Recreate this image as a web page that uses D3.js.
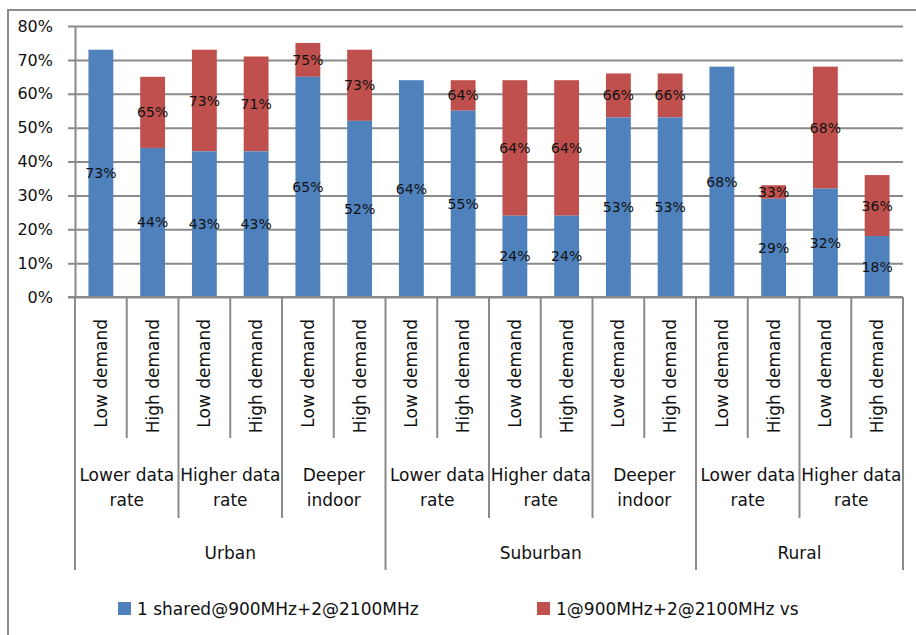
<!DOCTYPE html>
<html>
<head>
<meta charset="utf-8">
<script src="https://cdnjs.cloudflare.com/ajax/libs/d3/7.8.5/d3.min.js"></script>
<style>
  html, body { margin: 0; padding: 0; background: #fff; }
  svg { display: block; }
  text { font-family: "DejaVu Sans", Verdana, sans-serif; fill: #111; }
</style>
</head>
<body>
<svg id="chart" width="916" height="635"></svg>
<script>
// ---- data ----
const demandLabels = ["Low demand","High demand","Low demand","High demand","Low demand","High demand",
                      "Low demand","High demand","Low demand","High demand","Low demand","High demand",
                      "Low demand","High demand","Low demand","High demand"];
const rateLabels = [["Lower data","rate"],["Higher data","rate"],["Deeper","indoor"],
                    ["Lower data","rate"],["Higher data","rate"],["Deeper","indoor"],
                    ["Lower data","rate"],["Higher data","rate"]];
const areaLabels = ["Urban","Suburban","Rural"];
const areaSizes = [6, 6, 4];
const seriesNames = ["1 shared@900MHz+2@2100MHz", "1@900MHz+2@2100MHz vs"];
const sharedValues = [0.73,0.44,0.43,0.43,0.65,0.52,0.64,0.55,0.24,0.24,0.53,0.53,0.68,0.29,0.32,0.18];
const vsValues     = [null,0.65,0.73,0.71,0.75,0.73,null,0.64,0.64,0.64,0.66,0.66,null,0.33,0.68,0.36];
const yTicks = [0,0.1,0.2,0.3,0.4,0.5,0.6,0.7,0.8];
const colors = ["#4F81BD", "#C0504D"];

// ---- layout ----
const svg = d3.select("#chart");
const L = 75, R = 903, T = 26, B = 297;
const gridColor = "#8a8a8a";

const x = d3.scaleBand().domain(d3.range(demandLabels.length))
  .range([L, R]).paddingInner(0.52).paddingOuter(0.26);
const y = d3.scaleLinear().domain([0, 0.8]).range([B, T]);
const step = x.step();
const boundary = i => L + i * step;
const fmt = d3.format(".0%");

// outer frame
svg.append("path")
  .attr("d", `M8,635 L8,10 L916,10`)
  .attr("fill", "none").attr("stroke", gridColor).attr("stroke-width", 2);

// y axis with gridlines
const yAxis = d3.axisLeft(y).tickValues(yTicks).tickFormat(fmt)
  .tickSizeInner(-(R - L)).tickSizeOuter(0).tickPadding(22);
const gy = svg.append("g").attr("transform", `translate(${L},0)`).call(yAxis);
gy.select(".domain").attr("stroke", gridColor).attr("stroke-width", 2);
gy.selectAll(".tick line").attr("x1", -7).attr("stroke", gridColor).attr("stroke-width", 2);
gy.selectAll(".tick text").style("font-size", "16px").attr("fill", "#111")
  .style("font-family", "'DejaVu Sans', sans-serif");

// bars
const gBars = svg.append("g");
gBars.selectAll("rect.vs").data(d3.range(16).filter(i => vsValues[i] !== null))
  .join("rect").attr("class", "vs")
  .attr("x", i => x(i)).attr("width", x.bandwidth())
  .attr("y", i => y(vsValues[i]))
  .attr("height", i => y(sharedValues[i]) - y(vsValues[i]))
  .attr("fill", colors[1]);
gBars.selectAll("rect.sh").data(d3.range(16))
  .join("rect").attr("class", "sh")
  .attr("x", i => x(i)).attr("width", x.bandwidth())
  .attr("y", i => y(sharedValues[i]))
  .attr("height", i => y(0) - y(sharedValues[i]))
  .attr("fill", colors[0]);

// data labels
const gLab = svg.append("g").style("font-size", "14px");
gLab.selectAll("text.sh").data(d3.range(16)).join("text")
  .attr("x", i => x(i) + x.bandwidth() / 2)
  .attr("y", i => y(sharedValues[i] / 2))
  .attr("text-anchor", "middle").attr("dominant-baseline", "central")
  .text(i => fmt(sharedValues[i]));
gLab.selectAll("text.vs").data(d3.range(16).filter(i => vsValues[i] !== null)).join("text")
  .attr("x", i => x(i) + x.bandwidth() / 2)
  .attr("y", i => y((sharedValues[i] + vsValues[i]) / 2))
  .attr("text-anchor", "middle").attr("dominant-baseline", "central")
  .text(i => fmt(vsValues[i]));

// category axis: baseline
svg.append("line").attr("x1", L - 7).attr("x2", R).attr("y1", B).attr("y2", B)
  .attr("stroke", gridColor).attr("stroke-width", 2);

// separators
const areaBounds = [0];
areaSizes.forEach(s => areaBounds.push(areaBounds[areaBounds.length - 1] + s));
const sepBottom = i => areaBounds.includes(i) ? 570 : (i % 2 === 0 ? 518 : 438);
svg.append("g").selectAll("line").data(d3.range(17)).join("line")
  .attr("x1", i => boundary(i)).attr("x2", i => boundary(i))
  .attr("y1", B).attr("y2", i => sepBottom(i))
  .attr("stroke", gridColor).attr("stroke-width", 2);

// level 1 rotated labels
svg.append("g").selectAll("text").data(demandLabels).join("text")
  .attr("transform", (d, i) => `translate(${x(i) + x.bandwidth() / 2},319) rotate(-90)`)
  .attr("text-anchor", "end").attr("dominant-baseline", "central")
  .style("font-size", "17px")
  .text(d => d);

// level 2 labels
const g2 = svg.append("g").style("font-size", "17px");
rateLabels.forEach((lines, k) => {
  const cx = (boundary(2 * k) + boundary(2 * k + 2)) / 2;
  lines.forEach((ln, j) => {
    g2.append("text").attr("x", cx).attr("y", 475 + j * 25)
      .attr("text-anchor", "middle").attr("dominant-baseline", "central").text(ln);
  });
});

// level 3 labels
svg.append("g").selectAll("text").data(areaLabels).join("text")
  .attr("x", (d, k) => (boundary(areaBounds[k]) + boundary(areaBounds[k + 1])) / 2)
  .attr("y", 553)
  .attr("text-anchor", "middle").attr("dominant-baseline", "central")
  .style("font-size", "17px")
  .text(d => d);

// legend
const legendX = [118, 537];
const gl = svg.append("g");
seriesNames.forEach((name, i) => {
  gl.append("rect").attr("x", legendX[i]).attr("y", 602).attr("width", 13).attr("height", 13)
    .attr("fill", colors[i]);
  gl.append("text").attr("x", legendX[i] + 19).attr("y", 608.5)
    .attr("dominant-baseline", "central").style("font-size", "17px").text(name);
});
</script>
</body>
</html>
